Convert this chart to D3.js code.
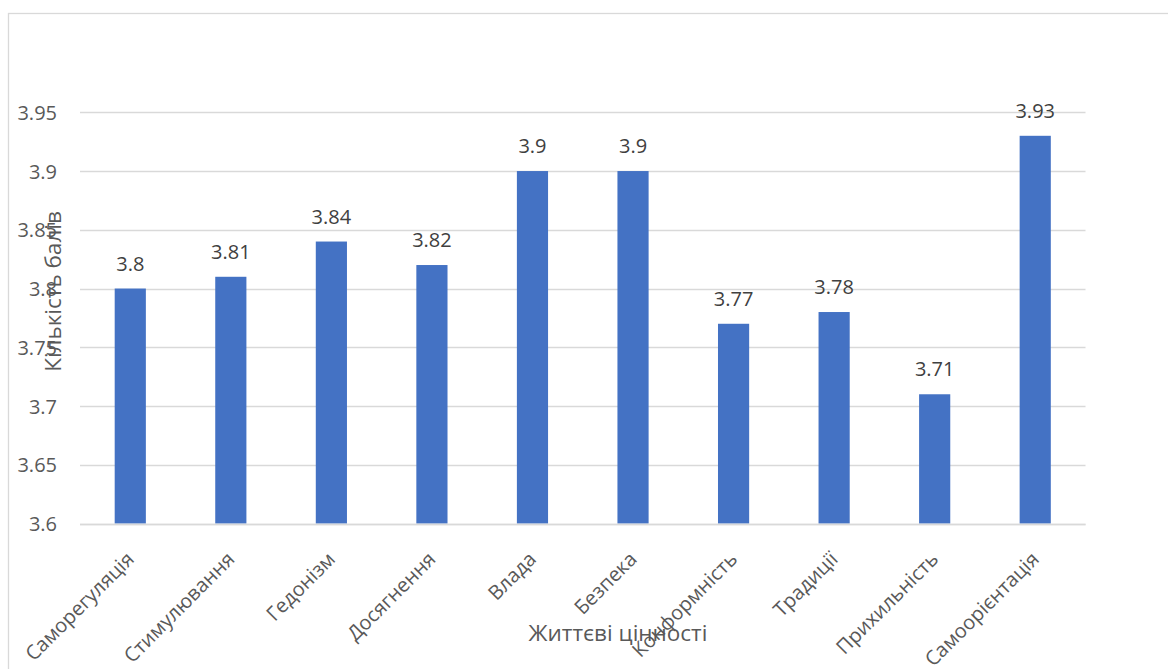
<!DOCTYPE html>
<html>
<head>
<meta charset="utf-8">
<script src="https://cdn.jsdelivr.net/npm/d3@7"></script>
<style>
  html, body { margin: 0; padding: 0; background: #fff; }
  svg { display: block; }
  text { font-family: "Open Sans", "Noto Sans", sans-serif; }
</style>
</head>
<body>
<svg id="chart" width="1168" height="669"></svg>
<script>
const categories = ["Саморегуляція", "Стимулювання", "Гедонізм", "Досягнення", "Влада", "Безпека", "Конформність", "Традиції", "Прихильність", "Самоорієнтація"];
const values = [3.8, 3.81, 3.84, 3.82, 3.9, 3.9, 3.77, 3.78, 3.71, 3.93];
const yTicks = [3.6, 3.65, 3.7, 3.75, 3.8, 3.85, 3.9, 3.95];
const yTickLabels = ["3.6", "3.65", "3.7", "3.75", "3.8", "3.85", "3.9", "3.95"];
const xTitle = "Життєві цінності";
const yTitle = "Кількість балів";

const svg = d3.select("#chart");
const plotLeft = 80, plotRight = 1085.5, plotTop = 112.3, plotBottom = 523.5;

// outer chart border (left and top visible)
svg.append("rect")
  .attr("x", 8.5).attr("y", 13.5)
  .attr("width", 1400).attr("height", 1000)
  .attr("fill", "none").attr("stroke", "#d9d9d9").attr("stroke-width", 1.3);

const x = d3.scaleBand().domain(categories).range([plotLeft, plotRight]).paddingInner(0.69).paddingOuter(0.345);
const y = d3.scaleLinear().domain([3.6, 3.95]).range([plotBottom, plotTop]);

// gridlines
svg.append("g").selectAll("line").data(yTicks).join("line")
  .attr("x1", plotLeft).attr("x2", plotRight)
  .attr("y1", d => Math.round(y(d)) + 0.5).attr("y2", d => Math.round(y(d)) + 0.5)
  .attr("stroke", "#d9d9d9").attr("stroke-width", 1.3);

// y axis tick labels
const yAxis = d3.axisLeft(y).tickValues(yTicks).tickFormat((d, i) => yTickLabels[i]).tickSize(0).tickPadding(23);
const gy = svg.append("g").attr("transform", `translate(${plotLeft},0)`).call(yAxis);
gy.select(".domain").remove();
gy.selectAll("text").attr("fill", "#595959").style("font-size", "20px").attr("dy", "0.35em");

// bars
svg.append("g").selectAll("rect").data(values).join("rect")
  .attr("x", (d, i) => x(categories[i]))
  .attr("width", x.bandwidth())
  .attr("y", d => y(d))
  .attr("height", d => plotBottom - y(d))
  .attr("fill", "#4472C4");

// data labels
svg.append("g").selectAll("text").data(values).join("text")
  .attr("x", (d, i) => x(categories[i]) + x.bandwidth() / 2)
  .attr("y", d => y(d) - 18)
  .attr("text-anchor", "middle")
  .attr("fill", "#404040")
  .style("font-size", "20px")
  .text(d => String(d));

// x axis line
svg.append("line").attr("x1", plotLeft).attr("x2", plotRight)
  .attr("y1", Math.round(plotBottom) + 0.5).attr("y2", Math.round(plotBottom) + 0.5)
  .attr("stroke", "#d9d9d9").attr("stroke-width", 1.3);

// x category labels rotated
const xAxis = d3.axisBottom(x).tickSize(0).tickPadding(0);
const gx = svg.append("g").attr("transform", `translate(0,${plotBottom})`).call(xAxis);
gx.select(".domain").remove();
gx.selectAll("text")
  .attr("text-anchor", "end")
  .attr("fill", "#595959")
  .style("font-size", "20px")
  .attr("dy", 0).attr("y", 0)
  .attr("transform", "translate(5,37) rotate(-45)");

// axis titles
svg.append("text").attr("x", 618).attr("y", 641).attr("text-anchor", "middle")
  .attr("fill", "#595959").style("font-size", "22.5px").text(xTitle);
svg.append("text").attr("transform", "translate(61,291.5) rotate(-90)").attr("text-anchor", "middle")
  .attr("fill", "#595959").style("font-size", "22.5px").text(yTitle);
</script>
</body>
</html>
